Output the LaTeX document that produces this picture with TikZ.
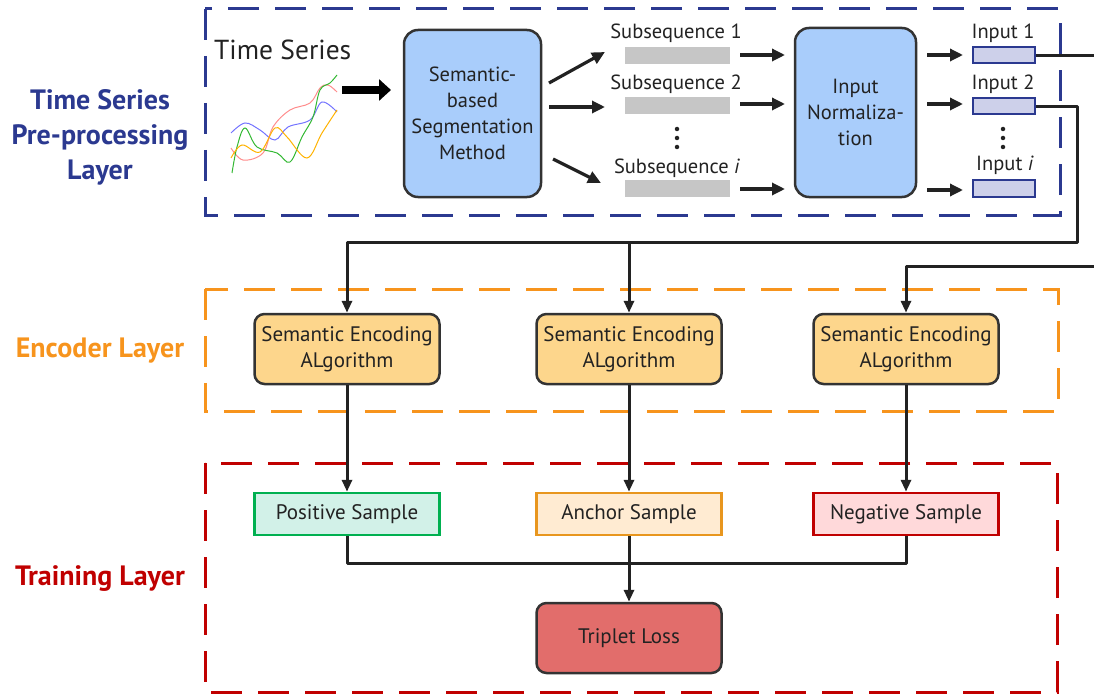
\documentclass[tikz,border=0pt]{standalone}
\usepackage{fontspec}
\setmainfont{PT Sans}
\usetikzlibrary{arrows.meta,positioning}

\definecolor{ink}{HTML}{222222}
\definecolor{edge}{HTML}{333333}
\definecolor{prepblue}{HTML}{2B3990}
\definecolor{encorange}{HTML}{F7941D}
\definecolor{trainred}{HTML}{C00000}
\definecolor{procfill}{HTML}{A9CDFB}
\definecolor{encfill}{HTML}{FDD68C}
\definecolor{barfill}{HTML}{C6C6C6}
\definecolor{infill}{HTML}{CDD0EA}
\definecolor{posfill}{HTML}{D2F1E8}
\definecolor{posedge}{HTML}{00B050}
\definecolor{ancfill}{HTML}{FFEBD2}
\definecolor{ancedge}{HTML}{E8961E}
\definecolor{negfill}{HTML}{FFD9DA}
\definecolor{lossfill}{HTML}{E26D6B}

% font size with an explicit baseline skip
\newcommand{\fsz}[2]{\fontsize{#1}{#2}\selectfont}

\tikzset{
  layerbox/.style={line width=3pt, dash pattern=on 31pt off 16pt},
  layertitle/.style={font=\fsz{28}{35}\bfseries, align=center},
  procbox/.style={draw=edge, fill=procfill, line width=2.5pt, rounded corners=14pt,
    text=ink, align=center, font=\fsz{20.5}{26}, inner sep=0pt},
  encbox/.style={draw=edge, fill=encfill, line width=2.5pt, rounded corners=10pt,
    text=ink, align=center, font=\fsz{21}{26}, inner sep=0pt,
    minimum width=185pt, minimum height=70pt},
  sampbox/.style={line width=2.5pt, text=ink, font=\fsz{21}{26}, inner sep=0pt,
    minimum width=185pt, minimum height=42pt},
  segbar/.style={fill=barfill, draw=none, minimum width=105pt, minimum height=17pt, inner sep=0pt},
  inbox/.style={fill=infill, draw=prepblue, line width=2pt, minimum width=62pt,
    minimum height=16pt, inner sep=0pt},
  small/.style={text=ink, font=\fsz{20.5}{24}, inner sep=0pt},
  flow/.style={line width=3.2pt, draw=ink, -{Triangle[length=13pt,width=12pt]}},
  wire/.style={line width=3pt, draw=ink, line join=round},
  wirearrow/.style={wire, -{Triangle[length=12pt,width=10pt]}},
  vdots/.style={fill=ink, circle, inner sep=0pt, minimum size=4.5pt},
  series/.style={line width=1pt, smooth, tension=0.6},
}

\begin{document}
\begin{tikzpicture}[x=1pt, y=-1pt]
\useasboundingbox (0,0) rectangle (1094,695);
\clip (0,0) rectangle (1094,695);

% ---------------- layer frames and titles ----------------
\draw[layerbox, draw=prepblue]   (205,9)   rectangle (1060,215);
\draw[layerbox, draw=encorange]  (205,289) rectangle (1058,411);
\draw[layerbox, draw=trainred]   (205,463) rectangle (1057,692);

\node[layertitle, text=prepblue] (tPrep) at (100,137)
  {Time Series\\Pre-processing\\Layer};
\node[layertitle, text=encorange] (tEnc) at (100,351) {Encoder Layer};
\node[layertitle, text=trainred]  (tTrain) at (100,579) {Training Layer};

% ---------------- raw time series ----------------
\node[anchor=west, text=ink, font=\fsz{27.5}{30}, inner sep=0pt] (ts) at (214,50) {Time Series};
\draw[series, draw=blue!55] plot coordinates {(231,133) (245,123) (260,130) (275,140) (288,127) (310,120) (322,102) (337,112)};
\draw[series, draw=red!45] plot coordinates {(231,148) (243,160) (263,153) (273,127) (290,110) (310,103) (320,88) (328,85) (337,92)};
\draw[series, draw=green!65!black!80] plot coordinates {(232,173) (237,147) (245,128) (257,147) (277,153) (290,162) (302,137) (313,117) (320,90) (330,83) (337,75)};
\draw[series, draw=orange!60!yellow] plot coordinates {(231,158) (242,145) (260,152) (275,128) (287,137) (307,158) (322,133) (337,110)};

\coordinate (tsOut) at (342,90);

% ---------------- segmentation ----------------
\node[procbox, minimum width=137pt, minimum height=167pt] (seg) at (472.5,113.5)
  {Semantic-\\based\\Segmentation\\Method};
\coordinate (segIn) at (391,90);
\draw[line width=8pt, draw=black, -{Triangle[length=12pt,width=21pt]}] (tsOut) -- (segIn);

\node[segbar] (bar1) at (677,55.5) {};
\node[segbar] (bar2) at (677,105.5) {};
\node[segbar] (bari) at (677,188.5) {};
\node[small] (lsub1) at (676,33) {Subsequence 1};
\node[small] (lsub2) at (676,84) {Subsequence 2};
\node[small] (lsubi) at (677,168) {Subsequence \textit{i}};
\node[vdots] (sd1) at (677,129) {};
\node[vdots] (sd2) at (677,138) {};
\node[vdots] (sd3) at (677,147) {};

\coordinate (segA) at (549,83);   \coordinate (subA) at (605,52);
\coordinate (segB) at (549,107);  \coordinate (subB) at (605,107);
\coordinate (segC) at (553,159);  \coordinate (subC) at (601,183);
\draw[flow] (segA) -- (subA);
\draw[flow] (segB) -- (subB);
\draw[flow] (segC) -- (subC);

% ---------------- normalisation ----------------
\node[procbox, minimum width=121pt, minimum height=169pt] (norm) at (855.5,112.5)
  {Input\\Normaliza-\\tion};

\coordinate (b1o) at (740,55);  \coordinate (n1i) at (785,55);
\coordinate (b2o) at (740,104); \coordinate (n2i) at (785,104);
\coordinate (bio) at (740,189); \coordinate (nii) at (785,189);
\draw[flow] (b1o) -- (n1i);
\draw[flow] (b2o) -- (n2i);
\draw[flow] (bio) -- (nii);

\node[inbox] (in1) at (1004,55.5) {};
\node[inbox] (in2) at (1004,106.5) {};
\node[inbox] (ini) at (1004,188.5) {};
\node[small] (lin1) at (1003,33) {Input 1};
\node[small] (lin2) at (1003,84) {Input 2};
\node[small] (lini) at (1005,165) {Input \textit{i}};
\node[vdots] (id1) at (1003,129) {};
\node[vdots] (id2) at (1003,138) {};
\node[vdots] (id3) at (1003,147) {};

\coordinate (n1o) at (927,55);  \coordinate (i1i) at (963,55);
\coordinate (n2o) at (927,104); \coordinate (i2i) at (963,104);
\coordinate (nio) at (927,190); \coordinate (iii) at (963,190);
\draw[flow] (n1o) -- (i1i);
\draw[flow] (n2o) -- (i2i);
\draw[flow] (nio) -- (iii);

% ---------------- encoders ----------------
\node[encbox] (enc1) at (347,349) {Semantic Encoding\\ALgorithm};
\node[encbox] (enc2) at (629,349) {Semantic Encoding\\ALgorithm};
\node[encbox] (enc3) at (906,349) {Semantic Encoding\\ALgorithm};

\coordinate (busA) at (1077,242);
\coordinate (busB) at (1110,266);
\draw[wirearrow] (in2.east) -| (busA) -| (enc1.north);
\draw[wirearrow] (enc2.north |- busA) -- (enc2.north);
\draw[wirearrow] (in1.east) -| (busB) -| (enc3.north);

% ---------------- samples and loss ----------------
\node[sampbox, draw=posedge, fill=posfill] (pos) at (347,514) {Positive Sample};
\node[sampbox, draw=ancedge, fill=ancfill] (anc) at (629,514) {Anchor Sample};
\node[sampbox, draw=trainred, fill=negfill] (neg) at (906,514) {Negative Sample};

\draw[wirearrow] (enc1.south) -- (pos.north);
\draw[wirearrow] (enc2.south) -- (anc.north);
\draw[wirearrow] (enc3.south) -- (neg.north);

\node[encbox, fill=lossfill, minimum height=70pt] (loss) at (629,638) {Triplet Loss};

\coordinate (join) at (629,563);
\draw[wire] (pos.south) |- (join) -| (neg.south);
\draw[wirearrow] (anc.south) -- (loss.north);
\end{tikzpicture}
\end{document}
